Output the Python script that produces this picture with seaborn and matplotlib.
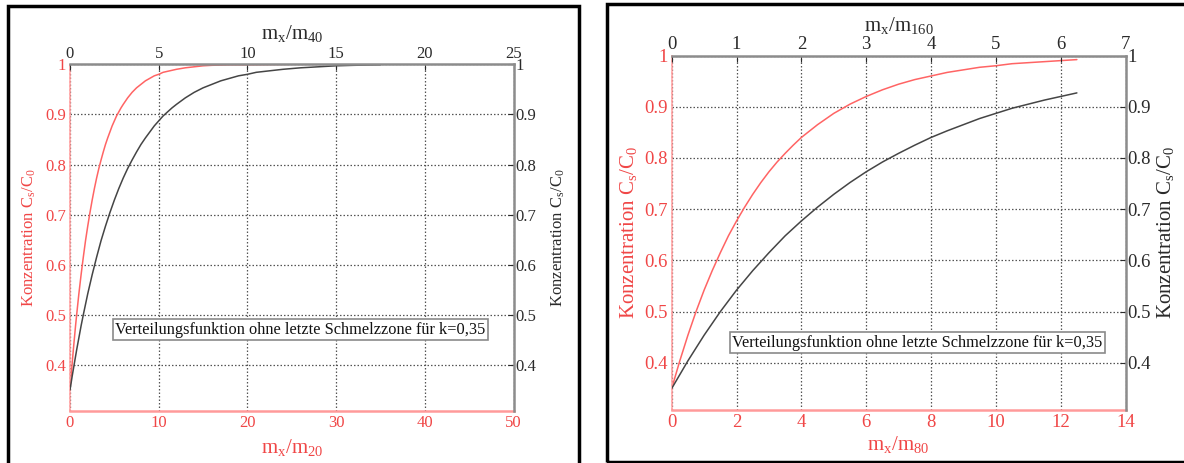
import matplotlib
matplotlib.use("Agg")
import matplotlib.pyplot as plt
from matplotlib.patches import Rectangle
import seaborn as sns

# ---- data: normalised concentration C_s/C_0 for k = 0.35 ----
# left panel: red vs m_x/m_20 (bottom), black vs m_x/m_40 (top)
left_red_x = [0, 0.125, 0.25, 0.375, 0.5, 0.625, 0.75, 0.875, 1, 1.25, 1.5, 1.75, 2,
              2.25, 2.5, 2.75, 3, 3.25, 3.5, 3.75, 4, 4.25, 4.5, 4.75, 5, 5.25, 5.5,
              5.75, 6, 6.5, 7, 7.5, 8, 8.5, 9, 9.5, 10, 10.5, 11, 11.5, 12, 13, 14,
              15, 16, 18, 20, 25, 30, 35]
left_red_y = [0.350, 0.378, 0.404, 0.430, 0.454, 0.478, 0.500, 0.521, 0.542, 0.580,
              0.615, 0.648, 0.677, 0.704, 0.729, 0.752, 0.773, 0.792, 0.809, 0.825,
              0.840, 0.853, 0.865, 0.877, 0.887, 0.897, 0.905, 0.913, 0.920, 0.933,
              0.944, 0.953, 0.960, 0.967, 0.972, 0.977, 0.980, 0.984, 0.986, 0.988,
              0.990, 0.993, 0.995, 0.997, 0.998, 0.999, 0.999, 1.000, 1.000, 1.000]
left_black_x = [0, 0.125, 0.25, 0.375, 0.5, 0.625, 0.75, 0.875, 1, 1.25, 1.5, 1.75, 2,
                2.25, 2.5, 2.75, 3, 3.25, 3.5, 3.75, 4, 4.25, 4.5, 4.75, 5, 5.25, 5.5,
                5.75, 6, 6.5, 7, 7.5, 8, 8.5, 9, 9.5, 10, 10.5, 11, 11.5, 12, 13, 14,
                15, 16, 17.5]
left_black_y = [0.350, 0.378, 0.404, 0.430, 0.454, 0.478, 0.500, 0.521, 0.542, 0.580,
                0.615, 0.648, 0.677, 0.704, 0.729, 0.752, 0.773, 0.792, 0.809, 0.825,
                0.840, 0.853, 0.865, 0.877, 0.887, 0.897, 0.905, 0.913, 0.920, 0.933,
                0.944, 0.953, 0.960, 0.967, 0.972, 0.977, 0.980, 0.984, 0.986, 0.988,
                0.990, 0.993, 0.995, 0.997, 0.998, 0.999]

# right panel: red vs m_x/m_80 (bottom), black vs m_x/m_160 (top)
right_red_x = [0, 0.25, 0.5, 0.75, 1, 1.25, 1.5, 1.75, 2, 2.25, 2.5, 2.75, 3, 3.25,
               3.5, 3.75, 4, 4.5, 5, 5.5, 6, 6.5, 7, 7.5, 8, 8.5, 9, 9.5, 10, 10.5,
               11, 11.5, 12, 12.5]
right_red_y = [0.350, 0.404, 0.454, 0.500, 0.542, 0.580, 0.615, 0.648, 0.677, 0.704,
               0.729, 0.752, 0.773, 0.792, 0.809, 0.825, 0.840, 0.865, 0.887, 0.905,
               0.920, 0.933, 0.944, 0.953, 0.960, 0.967, 0.972, 0.977, 0.980, 0.984,
               0.986, 0.988, 0.990, 0.992]
right_black_x = [0, 0.25, 0.5, 0.75, 1, 1.25, 1.5, 1.75, 2, 2.25, 2.5, 2.75, 3, 3.25,
                 3.5, 3.75, 4, 4.25, 4.5, 4.75, 5, 5.25, 5.5, 5.75, 6, 6.25]
right_black_y = [0.350, 0.404, 0.454, 0.500, 0.542, 0.580, 0.615, 0.648, 0.677, 0.704,
                 0.729, 0.752, 0.773, 0.792, 0.809, 0.825, 0.840, 0.853, 0.865, 0.877,
                 0.887, 0.897, 0.905, 0.913, 0.920, 0.927]

y_ticks = [0.4, 0.5, 0.6, 0.7, 0.8, 0.9, 1.0]
y_ticklabels = ["0.4", "0.5", "0.6", "0.7", "0.8", "0.9", "1"]
y_range = (0.308, 1.0)

left_bottom_ticks = [0, 10, 20, 30, 40, 50]
left_top_ticks = [0, 5, 10, 15, 20, 25]
right_bottom_ticks = [0, 2, 4, 6, 8, 10, 12, 14]
right_top_ticks = [0, 1, 2, 3, 4, 5, 6, 7]

note = "Verteilungsfunktion ohne letzte Schmelzzone für k=0,35"
ylabel_text = r"Konzentration $\mathrm{C_s/C_0}$"

# ---- style ----
sns.set_style("white")
plt.rcParams["font.family"] = ["Liberation Serif", "DejaVu Serif"]
plt.rcParams["mathtext.fontset"] = "custom"
plt.rcParams["mathtext.rm"] = "Liberation Serif"
plt.rcParams["mathtext.it"] = "Liberation Serif:italic"

RED_LINE = "#ff6464"
RED_TEXT = "#f04646"
RED_SPINE = "#ff9a9a"
BLACK_LINE = "#454545"
GRAY_SPINE = "#8c8c8c"
DARK_TEXT = "#2a2a2a"

W, H = 1184, 463
fig = plt.figure(figsize=(W / 100, H / 100), dpi=100)
fig.patch.set_facecolor("white")


def px_rect(x0, y0, x1, y1):
    """Figure-fraction rectangle from pixel bounds (top-left origin)."""
    return [x0 / W, 1 - y1 / H, (x1 - x0) / W, (y1 - y0) / H]


def panel(rect, red_x, red_y, blk_x, blk_y, bt, tt, bottom_lab, top_lab,
          tick_fs, lab_fs, ylab_fs, note_xy, note_fs, ylab_left_x, ylab_right_x,
          top_pad, bottom_pad):
    ax = fig.add_axes(rect)
    ax2 = fig.add_axes(rect)
    ax2.patch.set_alpha(0)

    sns.lineplot(x=red_x, y=red_y, ax=ax, color=RED_LINE, lw=1.1)
    sns.lineplot(x=blk_x, y=blk_y, ax=ax2, color=BLACK_LINE, lw=1.1)

    ax.set_xlim(bt[0], bt[-1])
    ax2.set_xlim(tt[0], tt[-1])
    for a in (ax, ax2):
        a.set_ylim(*y_range)
        a.set_yticks(y_ticks)
        a.set_yticklabels(y_ticklabels)

    ax.set_xticks(bt)
    ax2.set_xticks(tt)

    # bottom/left axis in red
    ax.grid(True, linestyle=(0, (1.2, 1.6)), color="#555555", lw=0.9)
    ax.tick_params(axis="both", direction="in", length=4, labelsize=tick_fs,
                   colors=RED_TEXT, pad=3)
    for s in ("top", "right"):
        ax.spines[s].set_visible(False)
    ax.spines["bottom"].set_color(RED_SPINE)
    ax.spines["bottom"].set_linewidth(1.8)
    ax.spines["left"].set_color(RED_SPINE)
    ax.spines["left"].set_linestyle((0, (1.2, 1.2)))
    ax.spines["left"].set_linewidth(1.2)

    # top/right axis in black
    ax2.xaxis.tick_top()
    ax2.yaxis.tick_right()
    ax2.xaxis.set_label_position("top")
    ax2.yaxis.set_label_position("right")
    ax2.tick_params(axis="both", direction="in", length=4, labelsize=tick_fs,
                    colors=DARK_TEXT, pad=1.5)
    for s in ("bottom", "left"):
        ax2.spines[s].set_visible(False)
    for s in ("top", "right"):
        ax2.spines[s].set_color(GRAY_SPINE)
        ax2.spines[s].set_linewidth(1.8)

    ax.set_xlabel(bottom_lab, color=RED_TEXT, fontsize=lab_fs, labelpad=bottom_pad)
    ax2.set_xlabel(top_lab, color=DARK_TEXT, fontsize=lab_fs, labelpad=top_pad)
    ax.set_ylabel(ylabel_text, color=RED_TEXT, fontsize=ylab_fs)
    ax2.set_ylabel(ylabel_text, color=DARK_TEXT, fontsize=ylab_fs)
    ax.yaxis.set_label_coords(ylab_left_x, 0.5)
    ax2.yaxis.set_label_coords(ylab_right_x, 0.5)

    ax2.text(note_xy[0], note_xy[1], note, transform=ax2.transAxes,
             ha="center", va="center", fontsize=note_fs, color="#111111",
             bbox=dict(boxstyle="square,pad=0.15", fc="white", ec="#8a8a8a", lw=1.2),
             zorder=5)
    return ax, ax2


# left panel
panel(px_rect(70, 64.3, 513.5, 411), left_red_x, left_red_y, left_black_x, left_black_y,
      left_bottom_ticks, left_top_ticks,
      r"$\mathrm{m_x/m_{20}}$", r"$\mathrm{m_x/m_{40}}$",
      tick_fs=12, lab_fs=15, ylab_fs=12, note_xy=(0.519, 0.234), note_fs=11.8,
      ylab_left_x=-0.072, ylab_right_x=1.082, top_pad=5, bottom_pad=4)

# right panel
panel(px_rect(671.7, 55.5, 1125.5, 410), right_red_x, right_red_y, right_black_x,
      right_black_y, right_bottom_ticks, right_top_ticks,
      r"$\mathrm{m_x/m_{80}}$", r"$\mathrm{m_x/m_{160}}$",
      tick_fs=13.5, lab_fs=15, ylab_fs=15, note_xy=(0.541, 0.19), note_fs=11.8,
      ylab_left_x=-0.072, ylab_right_x=1.065, top_pad=4, bottom_pad=2)

# panel frames
fig.add_artist(Rectangle((7.5 / W, 1 - 480 / H), (579 - 7.5) / W, (480 - 5.5) / H,
                         transform=fig.transFigure, fill=False, ec="black", lw=2.5))
fig.add_artist(Rectangle((607 / W, 1 - 461.5 / H), (1200 - 607) / W, (461.5 - 4) / H,
                         transform=fig.transFigure, fill=False, ec="black", lw=2.5))

fig.savefig("out.png", dpi=100, facecolor="white")
